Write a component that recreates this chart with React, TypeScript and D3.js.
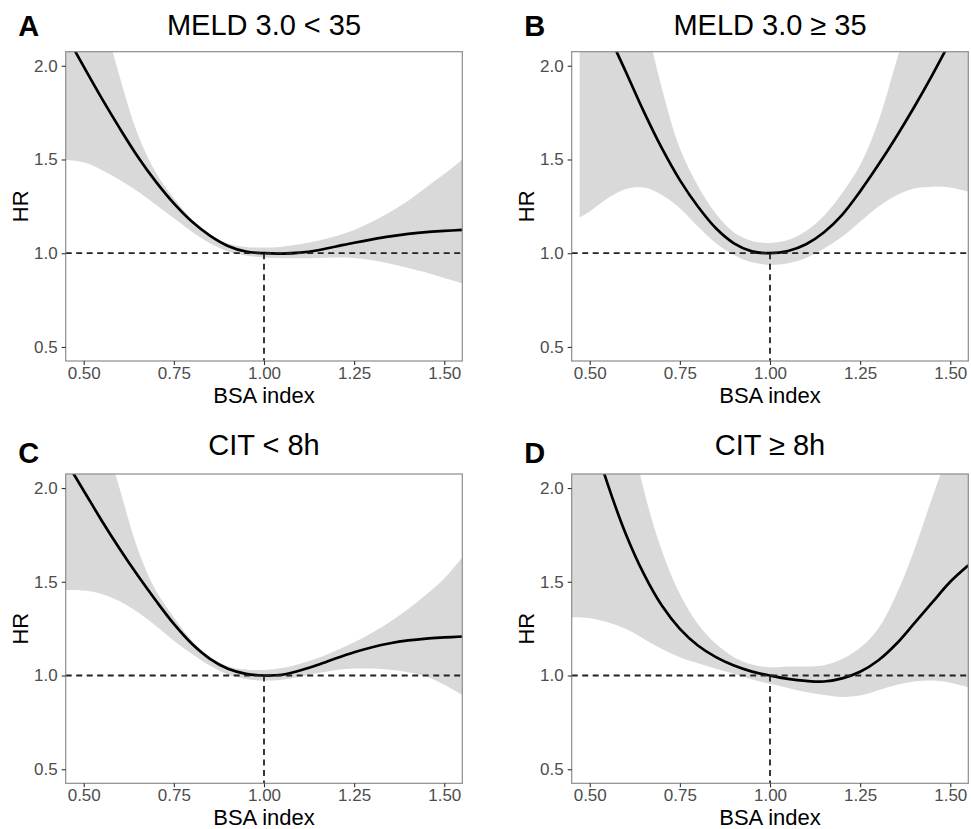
import React, { useEffect, useRef } from "react";
import * as d3 from "d3";

// BSA index grid (panel B's band starts a bit later)
const bsa = [0.45, 0.5, 0.55, 0.6, 0.65, 0.7, 0.75, 0.8, 0.85, 0.9, 0.95, 1.0, 1.05, 1.1, 1.15, 1.2, 1.25, 1.3, 1.35, 1.4, 1.45, 1.5, 1.55];
const bsaB = [0.472, 0.5, 0.55, 0.6, 0.65, 0.7, 0.75, 0.8, 0.85, 0.9, 0.95, 1.0, 1.05, 1.1, 1.15, 1.2, 1.25, 1.3, 1.35, 1.4, 1.45, 1.5, 1.55];

// A: MELD 3.0 < 35
const hrA = [2.17, 1.995, 1.826, 1.666, 1.515, 1.382, 1.266, 1.169, 1.094, 1.039, 1.009, 1.0, 0.998, 1.003, 1.016, 1.036, 1.056, 1.074, 1.09, 1.103, 1.113, 1.119, 1.124];
const hiA = [3.1, 2.7, 2.3, 1.94, 1.635, 1.43, 1.293, 1.18, 1.098, 1.052, 1.033, 1.03, 1.035, 1.048, 1.066, 1.092, 1.124, 1.168, 1.22, 1.28, 1.352, 1.422, 1.5];
const loA = [1.497, 1.485, 1.444, 1.39, 1.329, 1.258, 1.186, 1.115, 1.053, 1.009, 0.988, 0.977, 0.973, 0.973, 0.975, 0.977, 0.975, 0.962, 0.944, 0.921, 0.897, 0.868, 0.84];

// B: MELD 3.0 >= 35
const hrB = [2.56, 2.42, 2.18, 1.968, 1.755, 1.56, 1.39, 1.249, 1.133, 1.053, 1.01, 1.0, 1.012, 1.048, 1.112, 1.205, 1.33, 1.47, 1.62, 1.78, 1.95, 2.13, 2.31];
const hiB = [4.2, 3.8, 3.3, 2.85, 2.3, 1.88, 1.56, 1.36, 1.21, 1.11, 1.065, 1.055, 1.07, 1.118, 1.2, 1.32, 1.47, 1.7, 2.02, 2.35, 2.7, 3.05, 3.4];
const loB = [1.19, 1.222, 1.293, 1.343, 1.35, 1.311, 1.24, 1.142, 1.053, 0.991, 0.952, 0.938, 0.947, 0.975, 1.025, 1.088, 1.168, 1.248, 1.308, 1.345, 1.355, 1.35, 1.328];

// C: CIT < 8h
const hrC = [2.145, 1.986, 1.826, 1.675, 1.533, 1.4, 1.275, 1.169, 1.089, 1.036, 1.009, 1.0, 1.004, 1.027, 1.057, 1.092, 1.124, 1.151, 1.172, 1.187, 1.197, 1.203, 1.208];
const hiC = [3.0, 2.65, 2.32, 1.995, 1.674, 1.453, 1.311, 1.186, 1.101, 1.05, 1.032, 1.03, 1.04, 1.063, 1.093, 1.133, 1.177, 1.228, 1.287, 1.355, 1.432, 1.518, 1.63];
const loC = [1.456, 1.453, 1.435, 1.396, 1.337, 1.266, 1.186, 1.115, 1.053, 1.005, 0.982, 0.973, 0.978, 0.994, 1.013, 1.03, 1.037, 1.037, 1.031, 1.018, 0.995, 0.951, 0.897];

// D: CIT >= 8h
const hrD = [2.68, 2.33, 2.02, 1.755, 1.542, 1.373, 1.249, 1.16, 1.098, 1.053, 1.021, 1.0, 0.982, 0.971, 0.968, 0.985, 1.02, 1.08, 1.168, 1.278, 1.39, 1.5, 1.588];
const hiD = [3.7, 3.3, 2.85, 2.45, 1.99, 1.666, 1.435, 1.275, 1.169, 1.098, 1.059, 1.044, 1.048, 1.048, 1.055, 1.088, 1.148, 1.25, 1.43, 1.67, 1.95, 2.22, 2.5];
const loD = [1.311, 1.306, 1.284, 1.249, 1.195, 1.142, 1.098, 1.066, 1.036, 1.009, 0.979, 0.956, 0.934, 0.912, 0.896, 0.886, 0.893, 0.921, 0.95, 0.968, 0.973, 0.962, 0.938];

const xTicks = [0.5, 0.75, 1.0, 1.25, 1.5];
const yTicks = [0.5, 1.0, 1.5, 2.0];

const panels = [
  { letter: "A", title: "MELD 3.0 < 35", x: bsa, hr: hrA, hi: hiA, lo: loA, ox: 65.7, oy: 51.7, row: 0 },
  { letter: "B", title: "MELD 3.0 ≥ 35", x: bsaB, hr: hrB, hi: hiB, lo: loB, ox: 571.7, oy: 51.7, row: 0 },
  { letter: "C", title: "CIT < 8h", x: bsa, hr: hrC, hi: hiC, lo: loC, ox: 65.7, oy: 474, row: 1 },
  { letter: "D", title: "CIT ≥ 8h", x: bsa, hr: hrD, hi: hiD, lo: loD, ox: 571.7, oy: 474, row: 1 },
];

const W = 971;
const H = 829;
const pw = 396.6;
const ph = 309.3;
const font = "'Liberation Sans', Arial, Helvetica, sans-serif";

function App() {
  const svgRef = useRef(null);

  useEffect(() => {
    const svg = d3.select(svgRef.current);
    svg.selectAll("*").remove();

    const xScale = d3.scaleLinear().domain([0.45, 1.55]).range([0, pw]);
    const yScale = d3.scaleLinear().domain([0.425, 2.075]).range([ph, 0]);
    const curve = d3.curveCatmullRom.alpha(0.5);

    panels.forEach((p, i) => {
      const rows = p.x.map((x, j) => ({ x, hr: p.hr[j], hi: p.hi[j], lo: p.lo[j] }));
      const g = svg.append("g").attr("transform", `translate(${p.ox},${p.oy})`);

      const clipId = `clip-${i}`;
      svg.append("clipPath").attr("id", clipId)
        .append("rect").attr("width", pw).attr("height", ph);

      const plot = g.append("g").attr("clip-path", `url(#${clipId})`);

      const band = d3.area()
        .x(d => xScale(d.x))
        .y0(d => yScale(d.lo))
        .y1(d => yScale(d.hi))
        .curve(curve);
      plot.append("path").datum(rows).attr("d", band).attr("fill", "#d9d9d9");

      const line = d3.line()
        .x(d => xScale(d.x))
        .y(d => yScale(d.hr))
        .curve(curve);
      plot.append("path").datum(rows).attr("d", line)
        .attr("fill", "none").attr("stroke", "#000").attr("stroke-width", 2.7);

      // reference lines at HR = 1 and BSA index = 1
      plot.append("line")
        .attr("x1", 0).attr("x2", pw)
        .attr("y1", yScale(1)).attr("y2", yScale(1))
        .attr("stroke", "#222").attr("stroke-width", 1.8).attr("stroke-dasharray", "6,4.5");
      plot.append("line")
        .attr("x1", xScale(1)).attr("x2", xScale(1))
        .attr("y1", yScale(1)).attr("y2", ph)
        .attr("stroke", "#222").attr("stroke-width", 1.8).attr("stroke-dasharray", "6,4.5");

      // panel border
      g.append("rect").attr("width", pw).attr("height", ph)
        .attr("fill", "none").attr("stroke", "#8c8c8c").attr("stroke-width", 1.2);

      // axes
      const yAxis = d3.axisLeft(yScale).tickValues(yTicks).tickFormat(d3.format(".1f"))
        .tickSize(4).tickPadding(4);
      const xAxis = d3.axisBottom(xScale).tickValues(xTicks).tickFormat(d3.format(".2f"))
        .tickSize(4).tickPadding(2);

      const ya = g.append("g").call(yAxis);
      const xa = g.append("g").attr("transform", `translate(0,${ph})`).call(xAxis);
      [ya, xa].forEach(a => {
        a.select(".domain").remove();
        a.selectAll(".tick line").attr("stroke", "#333").attr("stroke-width", 1.1);
        a.selectAll(".tick text")
          .attr("fill", "#4d4d4d")
          .style("font-family", font)
          .style("font-size", "17px");
      });

      // texts
      g.append("text")
        .attr("x", pw / 2).attr("y", ph + 42)
        .attr("text-anchor", "middle")
        .style("font-family", font).style("font-size", "22px")
        .attr("fill", "#000")
        .text("BSA index");

      g.append("text")
        .attr("transform", `translate(-37.4,${ph / 2}) rotate(-90)`)
        .attr("text-anchor", "middle")
        .style("font-family", font).style("font-size", "22px")
        .attr("fill", "#000")
        .text("HR");

      svg.append("text")
        .attr("x", p.ox + pw / 2)
        .attr("y", p.row === 0 ? 35 : 455)
        .attr("text-anchor", "middle")
        .style("font-family", font).style("font-size", "29px")
        .attr("fill", "#000")
        .text(p.title);

      svg.append("text")
        .attr("x", p.ox - 47.4)
        .attr("y", p.row === 0 ? 36 : 462.7)
        .style("font-family", font).style("font-size", "29px").style("font-weight", "bold")
        .attr("fill", "#000")
        .text(p.letter);
    });
  }, []);

  return (
    <svg
      ref={svgRef}
      width={W}
      height={H}
      style={{ position: "absolute", left: 0, top: 0, background: "#fff" }}
    />
  );
}

export default App;
